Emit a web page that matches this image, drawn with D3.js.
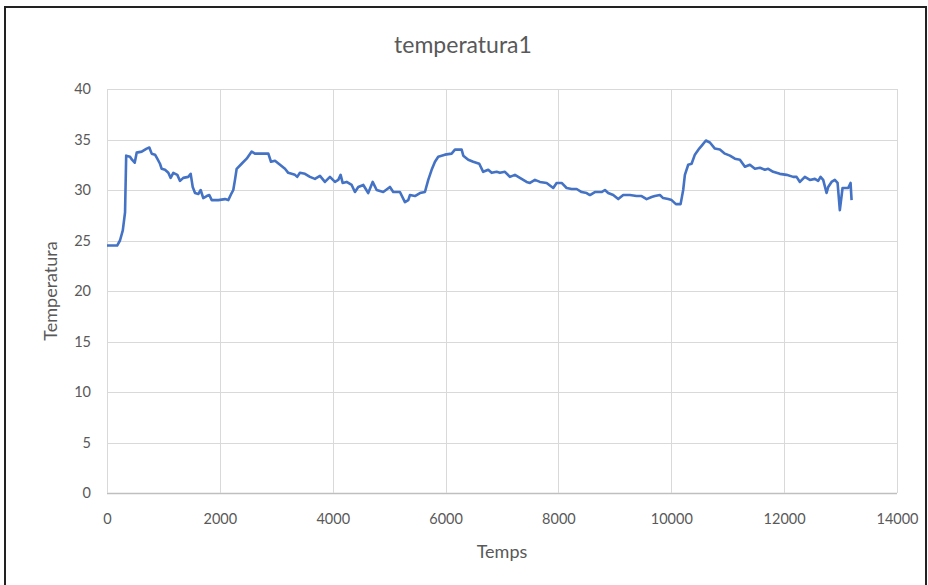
<!DOCTYPE html>
<html>
<head>
<meta charset="utf-8">
<script src="https://cdn.jsdelivr.net/npm/d3@7"></script>
<style>
  html, body { margin: 0; padding: 0; background: #fff; }
  svg { display: block; }
</style>
</head>
<body>
<svg id="chart" width="928" height="585"></svg>
<script>
const chartTitle = "temperatura1";
const xTitle = "Temps";
const yTitle = "Temperatura";
const xTicks = [0, 2000, 4000, 6000, 8000, 10000, 12000, 14000];
const yTicks = [0, 5, 10, 15, 20, 25, 30, 35, 40];

const times = [0,180,230,280,320,340,407,443,491,526,615,703,750,792,851,891,939,969,1028,1087,1128,1175,1246,1294,1352,1440,1483,1519,1560,1618,1660,1706,1767,1813,1856,1878,1972,2091,2149,2209,2238,2268,2298,2386,2475,2564,2622,2711,2859,2906,2977,3066,3154,3212,3331,3371,3419,3508,3597,3685,3774,3862,3951,4040,4099,4140,4176,4247,4336,4394,4453,4542,4629,4708,4779,4895,5014,5073,5191,5280,5339,5368,5457,5546,5634,5693,5753,5812,5870,5989,6107,6166,6285,6314,6402,6490,6597,6667,6756,6817,6905,6963,7052,7140,7229,7347,7436,7495,7584,7672,7791,7908,7968,8057,8145,8234,8323,8411,8500,8558,8646,8765,8824,8882,8971,9060,9148,9267,9385,9474,9563,9651,9709,9798,9856,9945,10006,10082,10165,10211,10241,10300,10360,10418,10495,10555,10613,10684,10773,10861,10950,11039,11127,11216,11305,11393,11482,11571,11659,11718,11806,11924,12043,12160,12220,12279,12367,12456,12545,12603,12645,12692,12752,12781,12840,12898,12947,12987,13035,13135,13177,13195];
const temps = [24.5,24.5,25.0,26.0,27.8,33.4,33.3,33.0,32.7,33.7,33.8,34.1,34.2,33.6,33.5,33.1,32.6,32.1,32.0,31.7,31.2,31.7,31.5,30.9,31.2,31.3,31.6,30.3,29.7,29.6,30.0,29.2,29.4,29.5,29.0,29.0,29.0,29.1,29.0,29.7,30.0,31.0,32.1,32.6,33.1,33.8,33.6,33.6,33.6,32.8,32.9,32.5,32.1,31.7,31.5,31.3,31.7,31.6,31.3,31.1,31.4,30.8,31.3,30.8,31.0,31.5,30.7,30.8,30.5,29.8,30.3,30.5,29.7,30.8,30.0,29.8,30.3,29.8,29.8,28.8,29.0,29.5,29.4,29.7,29.8,31.0,32.0,32.8,33.3,33.5,33.6,34.0,34.0,33.4,33.0,32.8,32.6,31.8,32.0,31.7,31.8,31.7,31.8,31.3,31.5,31.1,30.8,30.7,31.0,30.8,30.7,30.2,30.7,30.7,30.2,30.1,30.1,29.8,29.7,29.5,29.8,29.8,30.0,29.7,29.5,29.1,29.5,29.5,29.4,29.4,29.1,29.3,29.4,29.5,29.2,29.1,29.0,28.6,28.6,30.0,31.5,32.5,32.6,33.5,34.1,34.5,34.9,34.7,34.1,34.0,33.6,33.4,33.1,33.0,32.3,32.5,32.1,32.2,32.0,32.1,31.8,31.6,31.5,31.3,31.3,30.8,31.3,31.0,31.1,30.9,31.3,31.0,29.7,30.3,30.8,31.0,30.7,28.0,30.2,30.2,30.7,29.0];

const data = times.map((t, i) => ({ t: t, v: temps[i] }));

const svg = d3.select("#chart");
const plotL = 107, plotR = 897, plotT = 89, plotB = 493;
const font = "Lato, 'Open Sans', sans-serif";
const textColor = "#595959";

// outer frame
svg.append("rect").attr("x", 5).attr("y", 7).attr("width", 921).attr("height", 600)
  .attr("fill", "none").attr("stroke", "#222").attr("stroke-width", 2);

const x = d3.scaleLinear().domain([0, 14000]).range([plotL, plotR]);
const y = d3.scaleLinear().domain([0, 40]).range([plotB, plotT]);

// grid
svg.append("g").selectAll("line").data(yTicks).join("line")
  .attr("x1", plotL).attr("x2", plotR)
  .attr("y1", d => Math.round(y(d)) + 0.5).attr("y2", d => Math.round(y(d)) + 0.5)
  .attr("stroke", d => d === 0 ? "#bfbfbf" : "#d9d9d9").attr("stroke-width", d => d === 0 ? 1.5 : 1);
svg.append("g").selectAll("line").data(xTicks).join("line")
  .attr("y1", plotT).attr("y2", plotB)
  .attr("x1", d => Math.round(x(d)) + 0.5).attr("x2", d => Math.round(x(d)) + 0.5)
  .attr("stroke", "#d9d9d9").attr("stroke-width", 1);

// axes (labels only)
const xAxis = svg.append("g").attr("transform", `translate(0,${plotB})`)
  .call(d3.axisBottom(x).tickValues(xTicks).tickFormat(d3.format("d")).tickSize(0).tickPadding(21));
const yAxis = svg.append("g").attr("transform", `translate(${plotL},0)`)
  .call(d3.axisLeft(y).tickValues(yTicks).tickFormat(d3.format("d")).tickSize(0).tickPadding(16));
[xAxis, yAxis].forEach(a => {
  a.select(".domain").remove();
  a.selectAll("text").attr("fill", textColor).style("font-family", font).style("font-size", "14.5px");
});

// line
svg.append("path").datum(data)
  .attr("fill", "none").attr("stroke", "#4472C4").attr("stroke-width", 2.6)
  .attr("stroke-linejoin", "round")
  .attr("d", d3.line().x(d => x(d.t)).y(d => y(d.v)));

// titles
svg.append("text").attr("x", 463).attr("y", 53).attr("text-anchor", "middle")
  .attr("fill", textColor).style("font-family", font).style("font-size", "23px").text(chartTitle);
svg.append("text").attr("x", 502).attr("y", 558).attr("text-anchor", "middle")
  .attr("fill", textColor).style("font-family", font).style("font-size", "18px").text(xTitle);
svg.append("text").attr("transform", "translate(57,291) rotate(-90)").attr("text-anchor", "middle")
  .attr("fill", textColor).style("font-family", font).style("font-size", "18px").text(yTitle);
</script>
</body>
</html>
